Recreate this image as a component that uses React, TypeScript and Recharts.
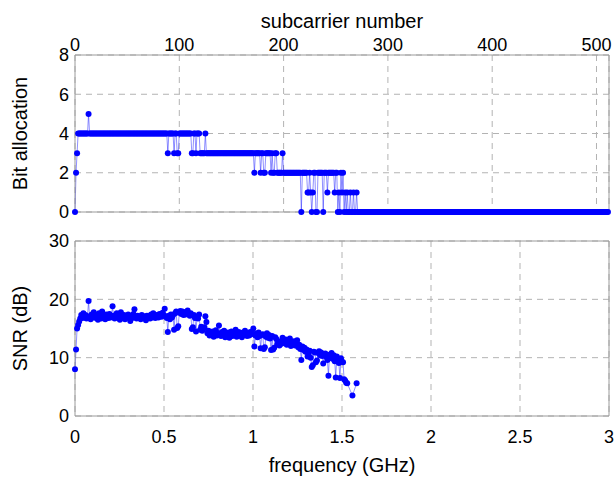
import React from 'react';
import { LineChart, Line, XAxis, YAxis, CartesianGrid } from 'recharts';

// ---- tick labels ----
const subcarrierTicks = [0, 100, 200, 300, 400, 500];
const bitTicks = [0, 2, 4, 6, 8];
const freqTicks = [0, 0.5, 1, 1.5, 2, 2.5, 3];
const snrTicks = [0, 10, 20, 30];

// ---- bit allocation per subcarrier (0..511), 10 subcarriers per row ----
const bitRows = [
  '0234444444', '4445444444', '4444444444', '4444444444', '4444444444',
  '4444444444', '4444444444', '4444444444', '4444444443', '4444434433',
  '4444444444', '4433443444', '3333343333', '3333333333', '3333333333',
  '3333333333', '3333333333', '3323333323', '3223333323', '2233222223',
  '2222222222', '2222222022', '2221121012', '2002222202', '2212222221',
  '2201021201', '0100100100', '1000000000', '0000000000', '0000000000',
  '0000000000', '0000000000', '0000000000', '0000000000', '0000000000',
  '0000000000', '0000000000', '0000000000', '0000000000', '0000000000',
  '0000000000', '0000000000', '0000000000', '0000000000', '0000000000',
  '0000000000', '0000000000', '0000000000', '0000000000', '0000000000',
  '0000000000', '00',
];

// ---- SNR (dB) per subcarrier (0..270), 10 per row; null = no marker ----
const snrRows: (number | null)[][] = [
  [8.0, 11.4, 15.0, 15.6, 16.2, 16.7, 17.3, 16.8, 17.6, 16.9],
  [17.3, 16.7, 17.1, 19.7, 17.0, 16.6, 17.4, 16.9, 17.8, 17.2],
  [16.8, 17.3, 16.5, 17.6, 17.0, 16.7, 17.9, 16.9, 17.2, 16.6],
  [17.4, 17.0, 16.8, 17.5, 16.9, 17.2, 18.8, 17.1, 16.7, 17.3],
  [17.6, 16.9, 17.2, 16.5, 17.8, 17.0, 16.8, 17.3, 16.6, 17.1],
  [16.9, 17.4, 17.0, 16.3, 17.2, 16.8, 17.5, 18.3, 17.0, 16.7],
  [17.2, 16.9, 17.0, 16.6, 17.3, 16.8, 17.1, 16.9, 16.4, 17.2],
  [16.8, 17.1, 16.7, 17.4, 16.9, 17.6, 17.0, 16.8, 17.3, 17.1],
  [16.9, 17.5, 17.2, 17.0, 17.7, 17.3, 18.4, 17.1, 16.8, 14.4],
  [17.2, 16.6, 17.4, 16.9, 17.3, 14.8, 17.6, 17.9, 15.1, 15.4],
  [17.7, 18.0, 17.5, 17.9, 17.3, 17.8, 17.4, 17.6, 18.1, 17.5],
  [17.2, 17.6, 14.9, 15.2, 17.3, 16.8, 14.5, 17.0, 16.7, 17.4],
  [14.8, 15.3, 14.6, 14.9, 15.2, 17.1, 16.1, 14.2, 14.6, 13.8],
  [14.3, 13.9, 14.5, 13.6, 14.1, 14.7, 13.8, 14.2, 15.5, 14.0],
  [13.7, 14.4, 13.9, 14.6, 13.5, 14.1, 13.8, 14.3, 13.4, 14.0],
  [14.5, 13.7, 14.2, 13.9, 14.8, 13.6, 14.0, 14.4, 13.8, 14.1],
  [13.5, 14.3, 13.9, 14.6, 14.0, 13.7, 14.2, 13.8, 14.4, 14.0],
  [14.2, 15.0, 11.9, 13.8, 14.1, 13.5, 14.3, 13.7, 11.6, 13.9],
  [14.0, 11.5, 11.8, 13.6, 14.2, 13.4, 13.9, 13.3, 11.3, 13.7],
  [11.4, 11.7, 13.5, 13.2, 12.3, 12.8, 12.1, 12.6, 12.4, 13.4],
  [12.9, 12.5, 13.1, 12.2, 12.7, 12.4, 13.3, 12.0, 12.6, 12.3],
  [12.8, 12.1, 12.5, 13.0, 11.8, 12.2, 11.5, 9.6, 11.9, 11.3],
  [11.7, 11.0, 11.4, 10.2, 10.5, 11.2, 10.0, 8.4, 8.7, 11.0],
  [10.9, 9.2, 9.5, 10.8, 11.1, 10.4, 10.9, 10.3, 9.0, 10.6],
  [10.7, 10.1, 9.6, 6.9, 10.5, 10.0, 10.8, 9.8, 10.4, 9.4],
  [6.6, 10.2, 9.7, 9.1, 6.5, 9.9, 9.3, 9.2, 6.3, 6.1],
  [5.7, 5.6, null, null, null, null, 3.5, null, null, null],
  [5.6],
];

const bitData = bitRows
  .join('')
  .split('')
  .map((c, k) => ({ k, bits: Number(c) }));

const snrData = snrRows.flat().map((v, k) => ({ f: (k * 3) / 512, snr: v }));

const FONT = '"Liberation Sans", Arial, Helvetica, sans-serif';
const AXIS = '#9a9a9a';
const GRID = '#b3b3b3';
const BLUE = '#0000ff';
const TICK = { fontSize: 18, fill: '#000', fontFamily: FONT };

export default function App() {
  return (
    <div
      style={{
        position: 'absolute',
        left: 0,
        top: 0,
        width: 616,
        height: 478,
        background: '#fff',
        fontFamily: FONT,
      }}
    >
      <div style={{ position: 'absolute', left: 0, top: 0 }}>
        <LineChart
          width={616}
          height={230}
          data={bitData}
          margin={{ top: 0, right: 0, bottom: 0, left: 0 }}
        >
          <CartesianGrid xAxisId="x" yAxisId="y" stroke={GRID} strokeDasharray="6 5" />
          <XAxis
            xAxisId="x"
            orientation="top"
            dataKey="k"
            type="number"
            domain={[0, 512]}
            ticks={subcarrierTicks}
            interval={0}
            height={55}
            tickLine={false}
            tickSize={0}
            tickMargin={4}
            axisLine={{ stroke: AXIS }}
            tick={TICK}
            label={{
              value: 'subcarrier number',
              position: 'insideTop',
              offset: 14,
              fontSize: 20,
              fill: '#000',
            }}
          />
          <XAxis
            xAxisId="xb"
            orientation="bottom"
            dataKey="k"
            type="number"
            domain={[0, 512]}
            height={18}
            tick={false}
            tickLine={false}
            axisLine={{ stroke: AXIS }}
          />
          <YAxis
            yAxisId="y"
            type="number"
            domain={[0, 8]}
            ticks={bitTicks}
            interval={0}
            width={75}
            tickLine={false}
            tickSize={0}
            tickMargin={6}
            axisLine={{ stroke: AXIS }}
            tick={TICK}
            label={{
              value: 'Bit allocation',
              angle: -90,
              position: 'insideLeft',
              offset: 20,
              fontSize: 20,
              fill: '#000',
              style: { textAnchor: 'middle' },
            }}
          />
          <YAxis
            yAxisId="yr"
            orientation="right"
            type="number"
            domain={[0, 8]}
            width={7}
            tick={false}
            tickLine={false}
            axisLine={{ stroke: AXIS }}
          />
          <Line
            xAxisId="x"
            yAxisId="y"
            dataKey="bits"
            type="linear"
            stroke={BLUE}
            strokeOpacity={0.55}
            strokeWidth={0.8}
            dot={{ r: 3, fill: BLUE, stroke: 'none' }}
            activeDot={false}
            isAnimationActive={false}
          />
        </LineChart>
      </div>
      <div style={{ position: 'absolute', left: 0, top: 230 }}>
        <LineChart
          width={616}
          height={248}
          data={snrData}
          margin={{ top: 0, right: 0, bottom: 0, left: 0 }}
        >
          <CartesianGrid xAxisId="x" yAxisId="y" stroke={GRID} strokeDasharray="6 5" />
          <XAxis
            xAxisId="x"
            orientation="bottom"
            dataKey="f"
            type="number"
            domain={[0, 3]}
            ticks={freqTicks}
            interval={0}
            height={62}
            tickLine={false}
            tickSize={0}
            tickMargin={14}
            axisLine={{ stroke: AXIS }}
            tick={TICK}
            label={{
              value: 'frequency (GHz)',
              position: 'insideBottom',
              offset: 6,
              fontSize: 20,
              fill: '#000',
            }}
          />
          <XAxis
            xAxisId="xt"
            orientation="top"
            dataKey="f"
            type="number"
            domain={[0, 3]}
            height={11}
            tick={false}
            tickLine={false}
            axisLine={{ stroke: AXIS }}
          />
          <YAxis
            yAxisId="y"
            type="number"
            domain={[0, 30]}
            ticks={snrTicks}
            interval={0}
            width={75}
            tickLine={false}
            tickSize={0}
            tickMargin={6}
            axisLine={{ stroke: AXIS }}
            tick={TICK}
            label={{
              value: 'SNR (dB)',
              angle: -90,
              position: 'insideLeft',
              offset: 20,
              fontSize: 20,
              fill: '#000',
              style: { textAnchor: 'middle' },
            }}
          />
          <YAxis
            yAxisId="yr"
            orientation="right"
            type="number"
            domain={[0, 30]}
            width={7}
            tick={false}
            tickLine={false}
            axisLine={{ stroke: AXIS }}
          />
          <Line
            xAxisId="x"
            yAxisId="y"
            dataKey="snr"
            type="linear"
            connectNulls
            stroke={BLUE}
            strokeOpacity={0.55}
            strokeWidth={0.8}
            dot={{ r: 3, fill: BLUE, stroke: 'none' }}
            activeDot={false}
            isAnimationActive={false}
          />
        </LineChart>
      </div>
    </div>
  );
}
